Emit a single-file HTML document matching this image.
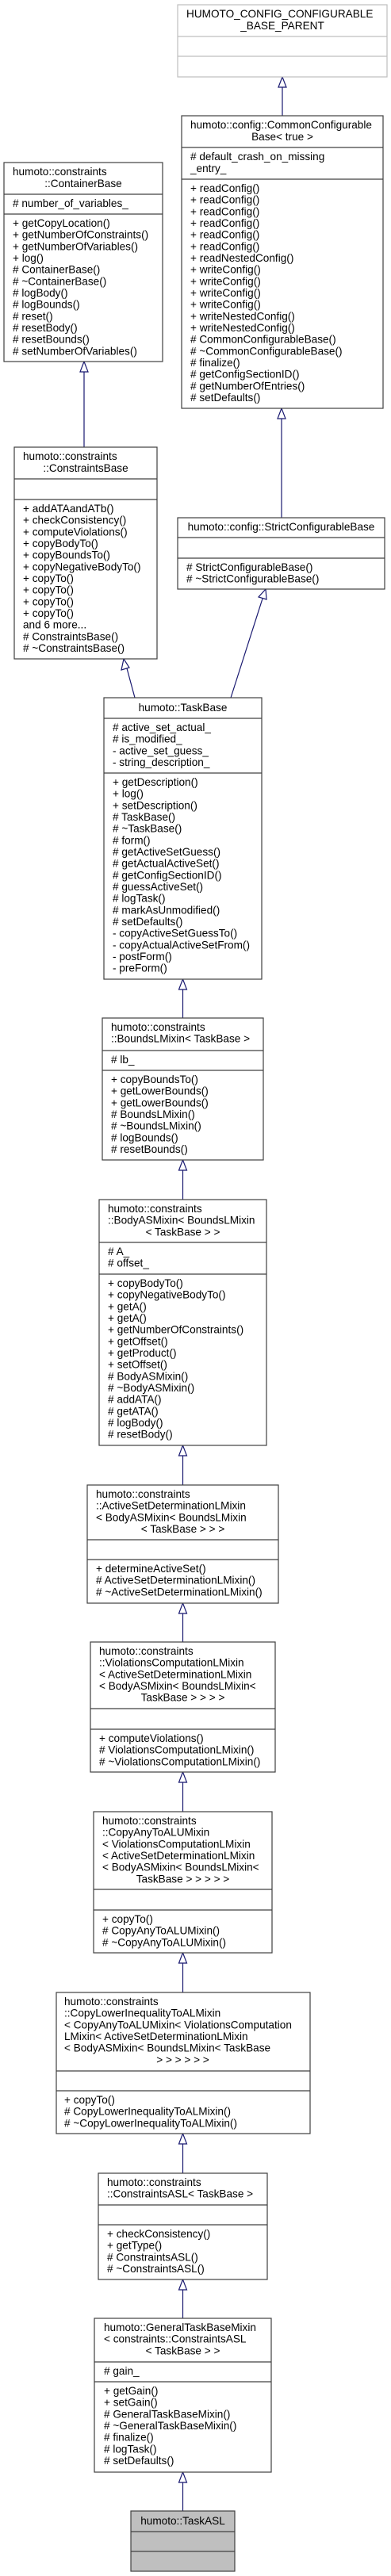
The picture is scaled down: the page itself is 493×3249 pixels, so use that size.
<!DOCTYPE html>
<html><head><meta charset="utf-8"><style>
html,body{margin:0;padding:0;background:#fff}
svg{display:block}
text{font-family:"Liberation Sans",Arial,sans-serif;font-size:13.6px;fill:#000}
.b{fill:#fff;stroke:#404040;stroke-width:1.2}
.g{fill:#fff;stroke:#bfbfbf;stroke-width:1.2}
.d{stroke:#404040;stroke-width:1.2}
.dg{stroke:#bfbfbf;stroke-width:1.2}
.e{stroke:#191970;stroke-width:1.2;fill:none}
.a{fill:#fff;stroke:#191970;stroke-width:1.2}
.c{text-anchor:middle}
</style></head><body>
<svg width="493" height="3249" viewBox="0 0 493 3249" xmlns="http://www.w3.org/2000/svg">

<!-- edges -->
<line class="e" x1="356" y1="109" x2="356" y2="146"/><polygon class="a" points="356,97 351,110 361,110"/>
<line class="e" x1="355" y1="528" x2="355" y2="653"/><polygon class="a" points="355,515 350,528 360,528"/>
<line class="e" x1="106" y1="469" x2="106" y2="564"/><polygon class="a" points="106,456 101,469 111,469"/>
<line class="e" x1="160" y1="843" x2="170" y2="880"/><polygon class="a" points="156,831 153,845 163,842"/>
<line class="e" x1="331" y1="755" x2="291" y2="880"/><polygon class="a" points="335,743 326,753 336,756"/>
<line class="e" x1="230.5" y1="1248" x2="230.5" y2="1284"/><polygon class="a" points="230.5,1235 225.5,1248 235.5,1248"/>
<line class="e" x1="230.5" y1="1476" x2="230.5" y2="1513"/><polygon class="a" points="230.5,1463 225.5,1476 235.5,1476"/>
<line class="e" x1="230.5" y1="1836" x2="230.5" y2="1873"/><polygon class="a" points="230.5,1823 225.5,1836 235.5,1836"/>
<line class="e" x1="230.5" y1="2035" x2="230.5" y2="2071"/><polygon class="a" points="230.5,2022 225.5,2035 235.5,2035"/>
<line class="e" x1="230.5" y1="2248" x2="230.5" y2="2285"/><polygon class="a" points="230.5,2235 225.5,2248 235.5,2248"/>
<line class="e" x1="230.5" y1="2476" x2="230.5" y2="2513"/><polygon class="a" points="230.5,2463 225.5,2476 235.5,2476"/>
<line class="e" x1="230.5" y1="2704" x2="230.5" y2="2741"/><polygon class="a" points="230.5,2691 225.5,2704 235.5,2704"/>
<line class="e" x1="230.5" y1="2888" x2="230.5" y2="2924"/><polygon class="a" points="230.5,2875 225.5,2888 235.5,2888"/>
<line class="e" x1="230.5" y1="3131" x2="230.5" y2="3167"/><polygon class="a" points="230.5,3118 225.5,3131 235.5,3131"/>

<!-- HUMOTO_CONFIG -->
<rect class="g" x="224" y="6" width="264" height="91"/>
<line class="dg" x1="224" y1="46" x2="488" y2="46"/><line class="dg" x1="224" y1="71" x2="488" y2="71"/>
<text x="235" y="22">HUMOTO_CONFIG_CONFIGURABLE</text>
<text class="c" x="356" y="37">_BASE_PARENT</text>

<!-- CommonConfigurableBase -->
<rect class="b" x="229" y="146" width="254" height="369"/>
<line class="d" x1="229" y1="186" x2="483" y2="186"/><line class="d" x1="229" y1="226" x2="483" y2="226"/>
<text x="240" y="162">humoto::config::CommonConfigurable</text>
<text class="c" x="356" y="177">Base&lt; true &gt;</text>
<text x="240" y="202">#&#160;default_crash_on_missing</text>
<text x="240" y="217">_entry_</text>
<g>
<text x="240" y="242">+ readConfig()</text>
<text x="240" y="256.7">+ readConfig()</text>
<text x="240" y="271.3">+ readConfig()</text>
<text x="240" y="286">+ readConfig()</text>
<text x="240" y="300.7">+ readConfig()</text>
<text x="240" y="315.3">+ readConfig()</text>
<text x="240" y="330">+ readNestedConfig()</text>
<text x="240" y="344.7">+ writeConfig()</text>
<text x="240" y="359.3">+ writeConfig()</text>
<text x="240" y="374">+ writeConfig()</text>
<text x="240" y="388.7">+ writeConfig()</text>
<text x="240" y="403.3">+ writeNestedConfig()</text>
<text x="240" y="418">+ writeNestedConfig()</text>
<text x="240" y="432.7"># CommonConfigurableBase()</text>
<text x="240" y="447.3"># ~CommonConfigurableBase()</text>
<text x="240" y="462"># finalize()</text>
<text x="240" y="476.7"># getConfigSectionID()</text>
<text x="240" y="491.3"># getNumberOfEntries()</text>
<text x="240" y="506"># setDefaults()</text>
</g>

<!-- ContainerBase -->
<rect class="b" x="5" y="205" width="200" height="251"/>
<line class="d" x1="5" y1="245" x2="205" y2="245"/><line class="d" x1="5" y1="270" x2="205" y2="270"/>
<text x="16" y="221">humoto::constraints</text>
<text class="c" x="105" y="236">::ContainerBase</text>
<text x="16" y="261"># number_of_variables_</text>
<text x="16" y="286">+ getCopyLocation()</text>
<text x="16" y="300.7">+ getNumberOfConstraints()</text>
<text x="16" y="315.3">+ getNumberOfVariables()</text>
<text x="16" y="330">+ log()</text>
<text x="16" y="344.7"># ContainerBase()</text>
<text x="16" y="359.3"># ~ContainerBase()</text>
<text x="16" y="374"># logBody()</text>
<text x="16" y="388.7"># logBounds()</text>
<text x="16" y="403.3"># reset()</text>
<text x="16" y="418"># resetBody()</text>
<text x="16" y="432.7"># resetBounds()</text>
<text x="16" y="447.3"># setNumberOfVariables()</text>

<!-- ConstraintsBase -->
<rect class="b" x="18" y="564" width="180" height="267"/>
<line class="d" x1="18" y1="604" x2="198" y2="604"/><line class="d" x1="18" y1="630" x2="198" y2="630"/>
<text x="29" y="580">humoto::constraints</text>
<text class="c" x="108" y="595">::ConstraintsBase</text>
<text x="29" y="646">+ addATAandATb()</text>
<text x="29" y="660.7">+ checkConsistency()</text>
<text x="29" y="675.3">+ computeViolations()</text>
<text x="29" y="690">+ copyBodyTo()</text>
<text x="29" y="704.7">+ copyBoundsTo()</text>
<text x="29" y="719.3">+ copyNegativeBodyTo()</text>
<text x="29" y="734">+ copyTo()</text>
<text x="29" y="748.7">+ copyTo()</text>
<text x="29" y="763.3">+ copyTo()</text>
<text x="29" y="778">+ copyTo()</text>
<text x="29" y="792.7">and 6 more...</text>
<text x="29" y="807.3"># ConstraintsBase()</text>
<text x="29" y="822"># ~ConstraintsBase()</text>

<!-- StrictConfigurableBase -->
<rect class="b" x="224" y="653" width="261" height="90"/>
<line class="d" x1="224" y1="678" x2="485" y2="678"/><line class="d" x1="224" y1="704" x2="485" y2="704"/>
<text class="c" x="354.5" y="669">humoto::config::StrictConfigurableBase</text>
<text x="235" y="720"># StrictConfigurableBase()</text>
<text x="235" y="734.7"># ~StrictConfigurableBase()</text>

<!-- TaskBase -->
<rect class="b" x="131" y="880" width="199" height="355"/>
<line class="d" x1="131" y1="906" x2="330" y2="906"/><line class="d" x1="131" y1="975" x2="330" y2="975"/>
<text class="c" x="230.5" y="897">humoto::TaskBase</text>
<text x="142" y="922"># active_set_actual_</text>
<text x="142" y="936.7"># is_modified_</text>
<text x="142" y="951.3">- active_set_guess_</text>
<text x="142" y="966">- string_description_</text>
<text x="142" y="991">+ getDescription()</text>
<text x="142" y="1005.7">+ log()</text>
<text x="142" y="1020.3">+ setDescription()</text>
<text x="142" y="1035"># TaskBase()</text>
<text x="142" y="1049.7"># ~TaskBase()</text>
<text x="142" y="1064.3"># form()</text>
<text x="142" y="1079"># getActiveSetGuess()</text>
<text x="142" y="1093.7"># getActualActiveSet()</text>
<text x="142" y="1108.3"># getConfigSectionID()</text>
<text x="142" y="1123"># guessActiveSet()</text>
<text x="142" y="1137.7"># logTask()</text>
<text x="142" y="1152.3"># markAsUnmodified()</text>
<text x="142" y="1167"># setDefaults()</text>
<text x="142" y="1181.7">- copyActiveSetGuessTo()</text>
<text x="142" y="1196.3">- copyActualActiveSetFrom()</text>
<text x="142" y="1211">- postForm()</text>
<text x="142" y="1225.7">- preForm()</text>

<!-- BoundsLMixin -->
<rect class="b" x="129" y="1284" width="203" height="179"/>
<line class="d" x1="129" y1="1325" x2="332" y2="1325"/><line class="d" x1="129" y1="1350" x2="332" y2="1350"/>
<text x="140" y="1300">humoto::constraints</text>
<text x="140" y="1314.7">::BoundsLMixin&lt; TaskBase &gt;</text>
<text x="140" y="1341"># lb_</text>
<text x="140" y="1366">+ copyBoundsTo()</text>
<text x="140" y="1380.7">+ getLowerBounds()</text>
<text x="140" y="1395.3">+ getLowerBounds()</text>
<text x="140" y="1410"># BoundsLMixin()</text>
<text x="140" y="1424.7"># ~BoundsLMixin()</text>
<text x="140" y="1439.3"># logBounds()</text>
<text x="140" y="1454"># resetBounds()</text>

<!-- BodyASMixin -->
<rect class="b" x="125" y="1513" width="211" height="310"/>
<line class="d" x1="125" y1="1567" x2="336" y2="1567"/><line class="d" x1="125" y1="1607" x2="336" y2="1607"/>
<text x="136" y="1529">humoto::constraints</text>
<text x="136" y="1543.7">::BodyASMixin&lt; BoundsLMixin</text>
<text class="c" x="230.5" y="1558.3">&lt; TaskBase &gt; &gt;</text>
<text x="136" y="1583"># A_</text>
<text x="136" y="1597.7"># offset_</text>
<text x="136" y="1623">+ copyBodyTo()</text>
<text x="136" y="1637.7">+ copyNegativeBodyTo()</text>
<text x="136" y="1652.3">+ getA()</text>
<text x="136" y="1667">+ getA()</text>
<text x="136" y="1681.7">+ getNumberOfConstraints()</text>
<text x="136" y="1696.3">+ getOffset()</text>
<text x="136" y="1711">+ getProduct()</text>
<text x="136" y="1725.7">+ setOffset()</text>
<text x="136" y="1740.3"># BodyASMixin()</text>
<text x="136" y="1755"># ~BodyASMixin()</text>
<text x="136" y="1769.7"># addATA()</text>
<text x="136" y="1784.3"># getATA()</text>
<text x="136" y="1799"># logBody()</text>
<text x="136" y="1813.7"># resetBody()</text>

<!-- ActiveSetDeterminationLMixin -->
<rect class="b" x="110" y="1873" width="241" height="149"/>
<line class="d" x1="110" y1="1942" x2="351" y2="1942"/><line class="d" x1="110" y1="1967" x2="351" y2="1967"/>
<text x="121" y="1889">humoto::constraints</text>
<text x="121" y="1903.7">::ActiveSetDeterminationLMixin</text>
<text x="121" y="1918.3">&lt; BodyASMixin&lt; BoundsLMixin</text>
<text class="c" x="230.5" y="1933">&lt; TaskBase &gt; &gt; &gt;</text>
<text x="121" y="1983">+ determineActiveSet()</text>
<text x="121" y="1997.7"># ActiveSetDeterminationLMixin()</text>
<text x="121" y="2012.3"># ~ActiveSetDeterminationLMixin()</text>

<!-- ViolationsComputationLMixin -->
<rect class="b" x="114" y="2071" width="233" height="164"/>
<line class="d" x1="114" y1="2155" x2="347" y2="2155"/><line class="d" x1="114" y1="2181" x2="347" y2="2181"/>
<text x="125" y="2087">humoto::constraints</text>
<text x="125" y="2101.7">::ViolationsComputationLMixin</text>
<text x="125" y="2116.3">&lt; ActiveSetDeterminationLMixin</text>
<text x="125" y="2131">&lt; BodyASMixin&lt; BoundsLMixin&lt;</text>
<text class="c" x="230.5" y="2145.7">TaskBase &gt; &gt; &gt; &gt;</text>
<text x="125" y="2197">+ computeViolations()</text>
<text x="125" y="2211.7"># ViolationsComputationLMixin()</text>
<text x="125" y="2226.3"># ~ViolationsComputationLMixin()</text>

<!-- CopyAnyToALUMixin -->
<rect class="b" x="118" y="2285" width="225" height="178"/>
<line class="d" x1="118" y1="2383" x2="343" y2="2383"/><line class="d" x1="118" y1="2409" x2="343" y2="2409"/>
<text x="129" y="2301">humoto::constraints</text>
<text x="129" y="2315.7">::CopyAnyToALUMixin</text>
<text x="129" y="2330.3">&lt; ViolationsComputationLMixin</text>
<text x="129" y="2345">&lt; ActiveSetDeterminationLMixin</text>
<text x="129" y="2359.7">&lt; BodyASMixin&lt; BoundsLMixin&lt;</text>
<text class="c" x="230.5" y="2374.3">TaskBase &gt; &gt; &gt; &gt; &gt;</text>
<text x="129" y="2425">+ copyTo()</text>
<text x="129" y="2439.7"># CopyAnyToALUMixin()</text>
<text x="129" y="2454.3"># ~CopyAnyToALUMixin()</text>

<!-- CopyLowerInequalityToALMixin -->
<rect class="b" x="71" y="2513" width="320" height="178"/>
<line class="d" x1="71" y1="2612" x2="391" y2="2612"/><line class="d" x1="71" y1="2637" x2="391" y2="2637"/>
<text x="81" y="2529">humoto::constraints</text>
<text x="81" y="2543.7">::CopyLowerInequalityToALMixin</text>
<text x="81" y="2558.3">&lt; CopyAnyToALUMixin&lt; ViolationsComputation</text>
<text x="81" y="2573">LMixin&lt; ActiveSetDeterminationLMixin</text>
<text x="81" y="2587.7">&lt; BodyASMixin&lt; BoundsLMixin&lt; TaskBase</text>
<text class="c" x="230.5" y="2602.3">&gt; &gt; &gt; &gt; &gt; &gt;</text>
<text x="81" y="2653">+ copyTo()</text>
<text x="81" y="2667.7"># CopyLowerInequalityToALMixin()</text>
<text x="81" y="2682.3"># ~CopyLowerInequalityToALMixin()</text>

<!-- ConstraintsASL -->
<rect class="b" x="124" y="2741" width="213" height="134"/>
<line class="d" x1="124" y1="2781" x2="337" y2="2781"/><line class="d" x1="124" y1="2806" x2="337" y2="2806"/>
<text x="135" y="2757">humoto::constraints</text>
<text x="135" y="2771.7">::ConstraintsASL&lt; TaskBase &gt;</text>
<text x="135" y="2822">+ checkConsistency()</text>
<text x="135" y="2836.7">+ getType()</text>
<text x="135" y="2851.3"># ConstraintsASL()</text>
<text x="135" y="2866"># ~ConstraintsASL()</text>

<!-- GeneralTaskBaseMixin -->
<rect class="b" x="119" y="2924" width="223" height="194"/>
<line class="d" x1="119" y1="2979" x2="342" y2="2979"/><line class="d" x1="119" y1="3004" x2="342" y2="3004"/>
<text x="131" y="2940">humoto::GeneralTaskBaseMixin</text>
<text x="131" y="2954.7">&lt; constraints::ConstraintsASL</text>
<text class="c" x="230.5" y="2969.3">&lt; TaskBase &gt; &gt;</text>
<text x="131" y="2995"># gain_</text>
<text x="131" y="3020">+ getGain()</text>
<text x="131" y="3034.7">+ setGain()</text>
<text x="131" y="3049.3"># GeneralTaskBaseMixin()</text>
<text x="131" y="3064"># ~GeneralTaskBaseMixin()</text>
<text x="131" y="3078.7"># finalize()</text>
<text x="131" y="3093.3"># logTask()</text>
<text x="131" y="3108"># setDefaults()</text>

<!-- TaskASL -->
<rect x="165" y="3167" width="131" height="76" fill="#bfbfbf" stroke="#404040" stroke-width="1.2"/>
<line class="d" x1="165" y1="3193" x2="296" y2="3193"/><line class="d" x1="165" y1="3218" x2="296" y2="3218"/>
<text class="c" x="230.5" y="3184">humoto::TaskASL</text>
</svg>
</body></html>
